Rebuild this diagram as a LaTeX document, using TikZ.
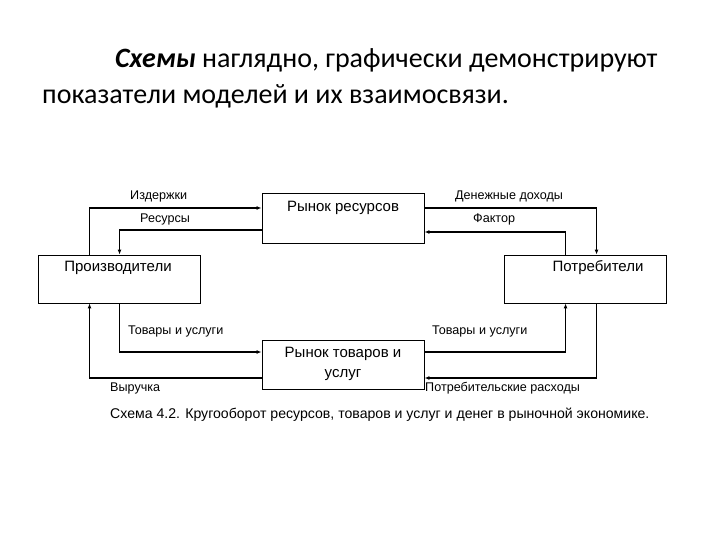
\documentclass[tikz,border=0pt]{standalone}
\usepackage{fontspec}
\setmainfont{Carlito}
\newfontfamily\diagfont{Liberation Sans}
\usetikzlibrary{arrows.meta}

\tikzset{
    box/.style={draw, line width=0.9pt, minimum width=162pt, minimum height=49pt, inner sep=0pt},
    flow/.style={line width=1.4pt, -{Latex[length=5pt,width=4pt]}},
    tag/.style={font=\diagfont\fontsize{12.6}{14}\selectfont, inner sep=0pt, anchor=west},
    boxtext/.style={font=\diagfont\fontsize{15}{20}\selectfont, inner sep=0pt}
}

\begin{document}
\begin{tikzpicture}[x=1pt,y=-1pt]

    \useasboundingbox (0,0) rectangle (720,540);

    % Heading
    \node[anchor=base west, inner sep=0pt, font=\fontsize{28}{32}\selectfont] (head1) at (115,68)
        {\textbf{\textit{Схемы}} наглядно, графически демонстрируют};
    \node[anchor=base west, inner sep=0pt, font=\fontsize{28}{32}\selectfont] (head2) at (42,104)
        {показатели моделей и их взаимосвязи.};

    % Boxes
    \node[box, minimum height=50pt] (resmkt) at (343,218) {};
    \node[box, minimum height=48pt] (prod) at (119,279) {};
    \node[box, minimum height=48pt] (cons) at (585,279) {};
    \node[box] (goodsmkt) at (343,364.5) {};

    % Box texts
    \node[boxtext] (resmkttext) at (343,208) {Рынок ресурсов};
    \node[boxtext] (prodtext) at (118,268) {Производители};
    \node[boxtext] (constext) at (598,268) {Потребители};
    \node[boxtext, align=center] (goodsmkttext) at (343,364) {Рынок товаров и\\услуг};

    % Upper flows
    \draw[flow] ([xshift=52pt]prod.north west) |- ([yshift=10pt]resmkt.west);
    \draw[flow] ([yshift=-12pt]resmkt.west) -| ([xshift=82pt]prod.north west);
    \draw[flow] ([yshift=10pt]resmkt.east) -| ([xshift=93pt]cons.north west);
    \draw[flow] ([xshift=62pt]cons.north west) |- ([yshift=-14pt]resmkt.east);

    % Lower flows
    \draw[flow] ([xshift=82pt]prod.south west) |- ([yshift=12.5pt]goodsmkt.west);
    \draw[flow] ([yshift=-13.5pt]goodsmkt.west) -| ([xshift=52pt]prod.south west);
    \draw[flow] ([yshift=12.5pt]goodsmkt.east) -| ([xshift=62pt]cons.south west);
    \draw[flow] ([xshift=93pt]cons.south west) |- ([yshift=-13.5pt]goodsmkt.east);

    % Labels
    \node[tag] (costs) at (130,196) {Издержки};
    \node[tag] (resources) at (140,219) {Ресурсы};
    \node[tag] (income) at (455,196) {Денежные доходы};
    \node[tag] (factor) at (473,219) {Фактор};
    \node[tag] (goodsleft) at (128,331) {Товары и услуги};
    \node[tag] (goodsright) at (432,331) {Товары и услуги};
    \node[tag] (revenue) at (110,388) {Выручка};
    \node[tag] (spending) at (425,388) {Потребительские расходы};

    % Caption
    \node[tag, font=\diagfont\fontsize{14.1}{16}\selectfont] (caption) at (110,415)
        {Схема 4.2. Кругооборот ресурсов, товаров и услуг и денег в рыночной экономике.};

\end{tikzpicture}
\end{document}
